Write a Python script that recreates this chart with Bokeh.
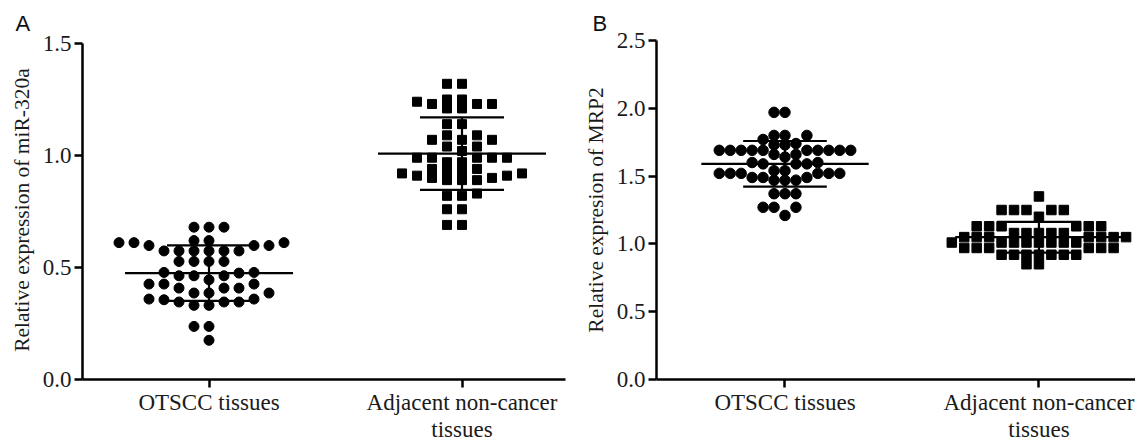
import numpy as np
from bokeh.plotting import figure
from bokeh.layouts import row
from bokeh.models import FixedTicker, Range1d, Title, PrintfTickFormatter
from bokeh.embed import file_html
from bokeh.resources import INLINE

# ---------------- data ----------------
categories = ["OTSCC tissues", "Adjacent non-cancer\ntissues"]

mir320a_otscc = [0.68, 0.68, 0.68,
                 0.62, 0.611, 0.598, 0.598, 0.598, 0.611, 0.611, 0.62,
                 0.574, 0.574, 0.574, 0.574, 0.574, 0.574,
                 0.527, 0.527, 0.527, 0.527,
                 0.463, 0.445, 0.475, 0.478, 0.478, 0.463, 0.463,
                 0.426, 0.408, 0.408, 0.408, 0.426, 0.426,
                 0.386, 0.359, 0.356, 0.386, 0.386,
                 0.346, 0.331, 0.331, 0.346, 0.346, 0.359,
                 0.237, 0.237,
                 0.175]

mir320a_adjacent = [1.32, 1.32,
                    1.25, 1.24, 1.23, 1.21, 1.21, 1.23, 1.23, 1.25,
                    1.14, 1.14,
                    1.09, 1.07, 1.07, 1.07, 1.09,
                    1.04, 1.02, 1.04,
                    0.97, 0.99, 0.99, 0.99, 0.99, 0.99, 0.97,
                    0.94, 0.93, 0.92, 0.91, 0.91, 0.93, 0.92, 0.94,
                    0.89, 0.89, 0.90, 0.90, 0.89,
                    0.82, 0.83, 0.82,
                    0.76, 0.76,
                    0.69, 0.69]

mrp2_otscc = [1.97, 1.97,
              1.80, 1.77, 1.80, 1.80,
              1.74,
              1.73, 1.73,
              1.69, 1.69, 1.69, 1.69, 1.69, 1.69, 1.69, 1.69, 1.69, 1.69,
              1.66, 1.66, 1.64,
              1.59, 1.59, 1.59,
              1.60, 1.60,
              1.54, 1.52, 1.52, 1.52, 1.49, 1.49, 1.49, 1.52, 1.52, 1.52, 1.54,
              1.47, 1.47, 1.47,
              1.37, 1.37, 1.37,
              1.27, 1.27, 1.27,
              1.21]

mrp2_adjacent = [1.35,
                 1.25, 1.25, 1.25, 1.25, 1.25,
                 1.20,
                 1.13, 1.13, 1.13, 1.13, 1.13, 1.13,
                 1.08, 1.08, 1.08, 1.08, 1.08,
                 1.05, 1.05, 1.05, 1.05, 1.05, 1.05, 1.05,
                 1.01, 1.01, 1.01, 1.01, 1.01, 1.01, 1.01, 1.01,
                 0.97, 0.97, 0.97, 0.97, 0.97, 0.97,
                 0.92, 0.92, 0.92, 0.92, 0.92, 0.92, 0.92,
                 0.85, 0.85]

ticks_a = [0.0, 0.5, 1.0, 1.5]
ticks_b = [0.0, 0.5, 1.0, 1.5, 2.0, 2.5]

SERIF = "Liberation Serif"
SANS = "Liberation Sans"
TXT = "#1a1a1a"
H = 445
TOP, BOTTOM = 40, 65


def swarm(values, px_per_y, dx, dy):
    """Simple beeswarm: offsets in pixels, so that marks do not overlap."""
    vals = np.asarray(values, dtype=float)
    order = np.argsort(vals, kind="stable")
    cands = sorted([k * dx / 2.0 for k in range(-40, 41)], key=lambda c: (abs(c), c))
    placed = []
    out = np.zeros(len(vals))
    for i in order:
        y = vals[i] * px_per_y
        for c in cands:
            ok = True
            for (px, py) in placed:
                if abs(c - px) < dx - 1e-6 and abs(y - py) < dy:
                    ok = False
                    break
            if ok:
                break
        placed.append((c, y))
        out[i] = c
    return out


def panel(letter, ylabel, yticks, ytop_px, groups, markers, msizes, spacings, dys,
          left, width, x0, px_per_x, xbound_end, letter_offset):
    frame_h = H - TOP - BOTTOM
    px_per_y = (frame_h - (ytop_px - TOP)) / yticks[-1]
    y_end = frame_h / px_per_y
    frame_w = width - left
    p = figure(width=width, height=H, output_backend="svg", toolbar_location=None,
               x_range=Range1d(x0, x0 + frame_w / px_per_x),
               y_range=Range1d(0, y_end),
               min_border_left=left, min_border_right=0,
               min_border_top=TOP, min_border_bottom=BOTTOM)
    p.outline_line_color = None
    p.grid.visible = False
    p.background_fill_color = "white"
    p.border_fill_color = "white"

    p.title = Title(text=letter, align="left", offset=letter_offset,
                    text_font=SANS, text_font_size="22px",
                    text_font_style="normal", text_color="#111111", standoff=9)

    for k, (vals, mk, ms, sp, dy) in enumerate(zip(groups, markers, msizes, spacings, dys)):
        cx = k + 1
        offs = swarm(vals, px_per_y, sp, dy)
        xs = cx + offs / px_per_x
        p.scatter(xs, vals, marker=mk, size=ms, fill_color="black", line_color="black")
        m = float(np.mean(vals))
        sd = float(np.std(vals, ddof=1))
        hw_mean = 84 / px_per_x
        hw_sd = 42 / px_per_x
        p.segment(x0=[cx - hw_mean, cx - hw_sd, cx - hw_sd, cx],
                  y0=[m, m + sd, m - sd, m - sd],
                  x1=[cx + hw_mean, cx + hw_sd, cx + hw_sd, cx],
                  y1=[m, m + sd, m - sd, m + sd],
                  line_color="black", line_width=2.2)

    for ax in (p.xaxis[0], p.yaxis[0]):
        ax.axis_line_width = 2.5
        ax.axis_line_color = "black"
        ax.major_tick_line_width = 2.5
        ax.major_tick_line_color = "black"
        ax.major_tick_out = 8
        ax.major_tick_in = 0
        ax.minor_tick_line_color = None
        ax.major_label_text_font = SERIF
        ax.major_label_text_font_size = "23px"
        ax.major_label_text_color = TXT
        ax.axis_label_text_font = SERIF
        ax.axis_label_text_font_size = "21.5px"
        ax.axis_label_text_font_style = "normal"
        ax.axis_label_text_color = TXT

    xa = p.xaxis[0]
    xa.ticker = FixedTicker(ticks=[1, 2])
    xa.major_label_overrides = {1: categories[0], 2: categories[1]}
    xa.major_label_standoff = 2
    xa.major_label_text_line_height = 1.1
    xa.bounds = (x0, xbound_end)

    ya = p.yaxis[0]
    ya.ticker = FixedTicker(ticks=yticks)
    ya.formatter = PrintfTickFormatter(format="%.1f")
    ya.major_label_standoff = 3
    ya.axis_label = ylabel
    ya.axis_label_standoff = 6
    ya.bounds = (0, yticks[-1])
    return p


pa = panel("A", "Relative expression of miR-320a", ticks_a, 43,
           [mir320a_otscc, mir320a_adjacent], ["circle", "square"], [10, 9], [15, 15], [9.2, 8.5],
           left=82, width=580, x0=0.5, px_per_x=253, xbound_end=2.41, letter_offset=-67)
pb = panel("B", "Relative expresion of MRP2", ticks_b, 40,
           [mrp2_otscc, mrp2_adjacent], ["circle", "square"], [10.5, 9.5], [11, 12.5], [9.5, 8.5],
           left=74, width=555, x0=0.494, px_per_x=255, xbound_end=3.0, letter_offset=-64)

layout = row(pa, pb, spacing=0)
open("out.html", "w").write(file_html(layout, INLINE))
